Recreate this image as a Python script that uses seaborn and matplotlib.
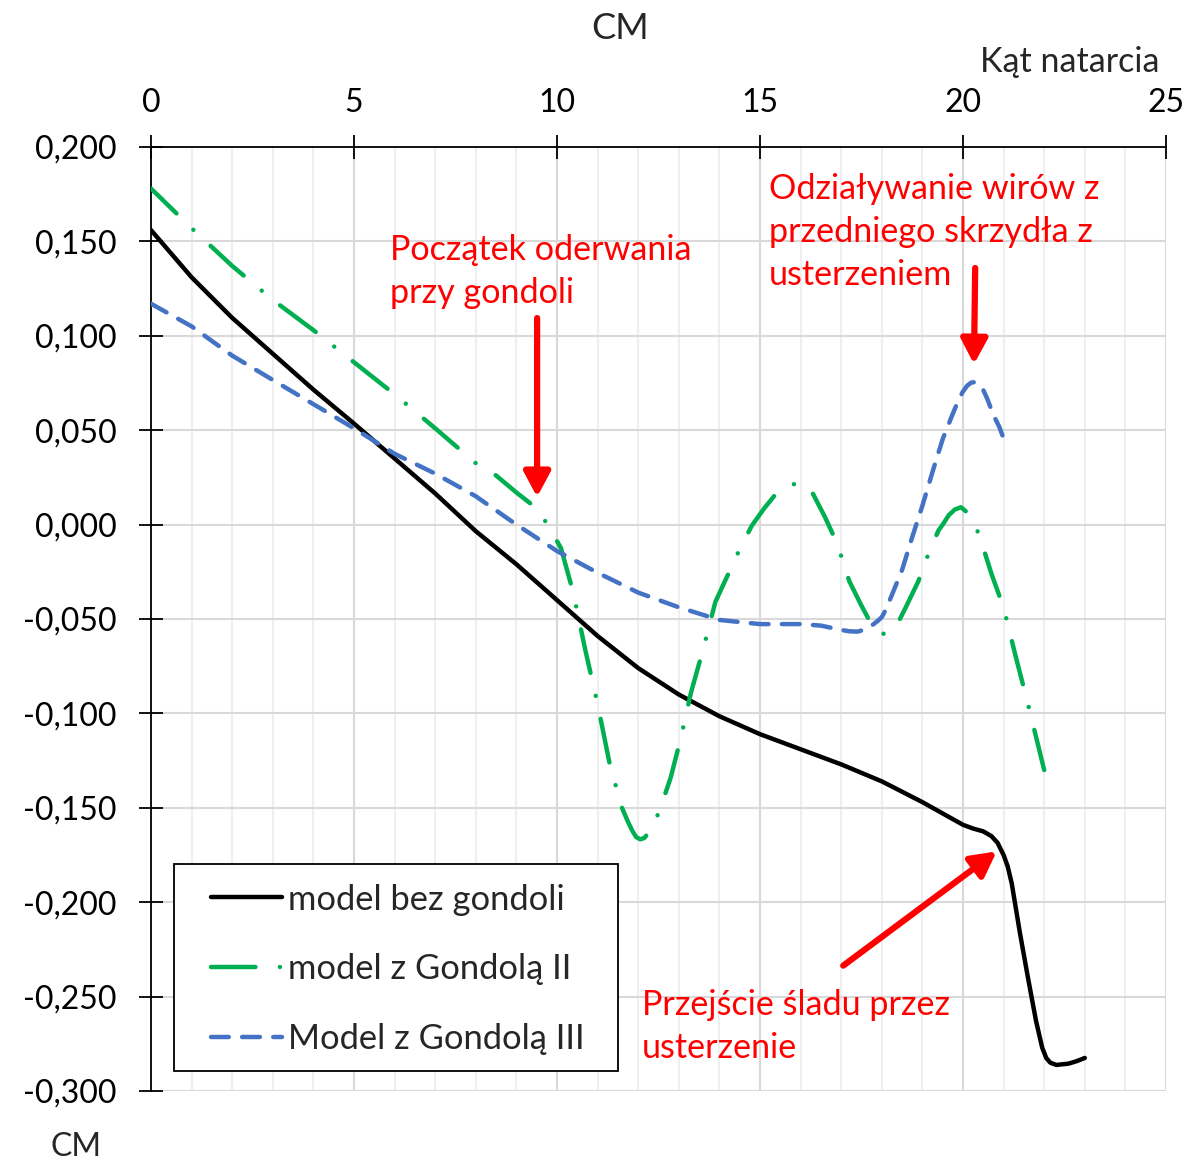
import matplotlib
matplotlib.use("Agg")
import matplotlib.pyplot as plt
from matplotlib.ticker import MultipleLocator, FuncFormatter
from matplotlib.patches import Rectangle
import numpy as np
import pandas as pd
import seaborn as sns

# Kąt natarcia [deg] and CM for each model variant
kat_bez = [0, 1, 2, 3, 4, 5, 6, 7, 8, 9, 10, 11, 12, 13, 14, 15, 16, 17, 18, 19,
           19.5, 20, 20.25, 20.5, 20.7, 20.85, 21.0, 21.1, 21.2, 21.4, 21.6, 21.8, 21.95,
           22.05, 22.15, 22.3, 22.6, 22.8, 23.0]
cm_bez = [0.156, 0.131, 0.1095, 0.0905, 0.0715, 0.0535, 0.035, 0.0165, -0.0035, -0.021,
          -0.040, -0.059, -0.076, -0.090, -0.1015, -0.111, -0.119, -0.127, -0.136, -0.147,
          -0.153, -0.159, -0.161, -0.1625, -0.165, -0.1685, -0.175, -0.181, -0.190, -0.216,
          -0.240, -0.263, -0.277, -0.2825, -0.285, -0.2862, -0.2855, -0.2842, -0.2825]

kat_g2 = [0, 1, 2, 3, 4, 5, 6, 7, 8, 8.5, 9, 9.5, 9.8, 10.1, 10.4, 10.7, 11, 11.3, 11.6,
          11.75, 11.85, 11.95, 12.05, 12.15, 12.3, 12.4, 12.55, 12.8, 13.05, 13.3, 13.6,
          13.9, 14.2, 14.5, 14.8, 15.1, 15.4, 15.7, 15.85, 16.0, 16.15, 16.3, 16.6, 16.9,
          17.2, 17.5, 17.8, 17.95, 18.1, 18.25, 18.4, 18.6, 18.9, 19.2, 19.4, 19.5, 19.65,
          19.8, 19.95, 20.1, 20.25, 20.4, 20.7, 21.0, 21.3, 21.6, 22.0]
cm_g2 = [0.178, 0.157, 0.137, 0.119, 0.103, 0.086, 0.069, 0.051, 0.0325, 0.026, 0.017,
         0.0086, -0.001, -0.0126, -0.036, -0.0667, -0.095, -0.127, -0.150, -0.1575, -0.162,
         -0.1655, -0.1667, -0.166, -0.162, -0.158, -0.150, -0.134, -0.113, -0.089, -0.066,
         -0.041, -0.027, -0.013, -0.0005, 0.0085, 0.0165, 0.0205, 0.0215, 0.022, 0.0205,
         0.0165, 0.004, -0.010, -0.030, -0.043, -0.055, -0.0575, -0.058, -0.056, -0.052,
         -0.0434, -0.030, -0.0125, -0.003, 0.0, 0.005, 0.008, 0.0092, 0.0065, 0.0015,
         -0.0055, -0.026, -0.044, -0.070, -0.095, -0.130]

kat_g3 = [0, 1, 2, 3, 4, 5, 6, 7, 8, 9, 10, 11, 12, 13, 14, 15, 16, 16.5, 17, 17.2, 17.4,
          17.6, 17.75, 17.9, 18.0, 18.1, 18.25, 18.5, 18.75, 19.0, 19.25, 19.5, 19.75, 19.9,
          20.0, 20.1, 20.2, 20.3, 20.4, 20.5, 20.6, 20.75, 20.9, 21.0]
cm_g3 = [0.117, 0.105, 0.0895, 0.0766, 0.0638, 0.051, 0.0375, 0.027, 0.015, 0.0, -0.014,
         -0.0255, -0.036, -0.0438, -0.0505, -0.0527, -0.0527, -0.0535, -0.0558, -0.0565,
         -0.0567, -0.0555, -0.0535, -0.051, -0.049, -0.045, -0.0372, -0.024, -0.0066, 0.010,
         0.028, 0.0453, 0.0588, 0.0665, 0.0705, 0.0735, 0.0752, 0.0755, 0.0738, 0.0713,
         0.0665, 0.058, 0.0515, 0.0455]

series_labels = ["model bez gondoli", "model z Gondolą II", "Model z Gondolą III"]
series_colors = ["#000000", "#00B050", "#4472C4"]

sns.set_theme(style="white")
plt.rcParams["font.family"] = ["Lato", "DejaVu Sans"]

W, H = 1189, 1161
fig = plt.figure(figsize=(W / 100, H / 100), dpi=100)
ax = fig.add_axes([151 / W, 1 - 1091 / H, 1015 / W, 944 / H])
ax.set_facecolor("white")

LW = 3.2
DASHDOT = (10, 5.5, 0.01, 5.5)
frames = [
    pd.DataFrame({"kat": kat_bez, "cm": cm_bez}),
    pd.DataFrame({"kat": kat_g2, "cm": cm_g2}),
    pd.DataFrame({"kat": kat_g3, "cm": cm_g3}),
]
styles = ["-", (0, DASHDOT), (0, (4, 3))]

for df, lab, col, ls in zip(frames, series_labels, series_colors, styles):
    sns.lineplot(data=df, x="kat", y="cm", ax=ax, color=col, lw=LW,
                 linestyle=ls, label=lab, estimator=None, sort=False, zorder=3)
for line in ax.get_lines():
    line.set_dash_capstyle("round")
    line.set_solid_capstyle("round")
    line.set_solid_joinstyle("round")
    line.set_dash_joinstyle("round")

ax.set_xlim(0, 25)
ax.set_ylim(-0.3, 0.2)
ax.xaxis.set_major_locator(MultipleLocator(5))
ax.xaxis.set_minor_locator(MultipleLocator(1))
ax.yaxis.set_major_locator(MultipleLocator(0.05))
ax.yaxis.set_major_formatter(FuncFormatter(lambda v, p: f"{v:.3f}".replace(".", ",")))
ax.xaxis.tick_top()
ax.set_xlabel("")
ax.set_ylabel("")

ax.set_axisbelow(True)
ax.grid(which="major", axis="both", color="#d9d9d9", lw=1.5)
ax.grid(which="minor", axis="x", color="#efefef", lw=1.5)

for s in ["right", "bottom"]:
    ax.spines[s].set_visible(False)
for s in ["top", "left"]:
    ax.spines[s].set_color("black")
    ax.spines[s].set_linewidth(1.3)

ax.tick_params(axis="x", which="major", direction="inout", length=17, width=1.3,
               labelsize=23, pad=12.5, colors="black", top=True, bottom=False)
ax.tick_params(axis="x", which="minor", length=0, top=False, bottom=False)
ax.tick_params(axis="y", which="major", direction="inout", length=17, width=1.3,
               labelsize=23, pad=16.5, colors="black", left=True)

# legend box
ax.add_patch(Rectangle((0.0227, 0.0212), 0.4374, 0.2193, transform=ax.transAxes,
                       facecolor="white", edgecolor="black", lw=1.3, zorder=4))
leg = ax.legend(loc="upper left", bbox_to_anchor=(0.0591, 0.2198), frameon=False,
                fontsize=24.8, handlelength=2.05, handletextpad=0.2, labelspacing=1.10,
                borderpad=0, borderaxespad=0)
leg.set_zorder(5)
for h in leg.get_lines():
    h.set_dash_capstyle("round")
    h.set_solid_capstyle("round")

# fit the dash-dot period so the green curve starts and finishes on a dash
g_line = ax.get_lines()[1]
pts = ax.transData.transform(np.column_stack([kat_g2, cm_g2]))
path_len = np.sum(np.hypot(*np.diff(pts, axis=0).T)) * 72 / fig.dpi / LW
start_phase, end_phase = 2.0, 9.3
n_periods = round((path_len + start_phase - end_phase) / sum(DASHDOT))
period = (path_len + start_phase - end_phase) / n_periods
gap = (period - DASHDOT[0] - DASHDOT[2]) / 2
g_line.set_linestyle((start_phase, (DASHDOT[0], gap, DASHDOT[2], gap)))

# annotations (y = baseline of the last line)
red = "#FF0000"
note_kw = dict(color=red, fontsize=24.6, ha="left", va="baseline", linespacing=1.43, zorder=6)
ax.text(5.89, 0.1174, "Początek oderwania\nprzy gondoli", **note_kw)
ax.text(15.22, 0.1269, "Odziaływanie wirów z\nprzedniego skrzydła z\nusterzeniem", **note_kw)
ax.text(12.09, -0.2825, "Przejście śladu przez\nusterzenie", **note_kw)

arrow_kw = dict(arrowstyle="-|>,head_length=0.6,head_width=0.32", color=red, lw=4.5,
                mutation_scale=25, shrinkA=0, shrinkB=0)
ax.annotate("", xy=(9.51, 0.0146), xytext=(9.51, 0.1094), arrowprops=arrow_kw, zorder=6)
ax.annotate("", xy=(20.27, 0.085), xytext=(20.3, 0.1359), arrowprops=arrow_kw, zorder=6)
ax.annotate("", xy=(20.83, -0.1731), xytext=(17.05, -0.2336), arrowprops=arrow_kw, zorder=6)

# axis titles
fig.text(620 / W, 1 - 39 / H, "CM", fontsize=26, ha="center", va="baseline")
fig.text(980 / W, 1 - 72 / H, "Kąt natarcia", fontsize=24.5, ha="left", va="baseline")
fig.text(76 / W, 1 - 1156 / H, "CM", fontsize=23, ha="center", va="baseline")

fig.savefig("out.png", dpi=100)
